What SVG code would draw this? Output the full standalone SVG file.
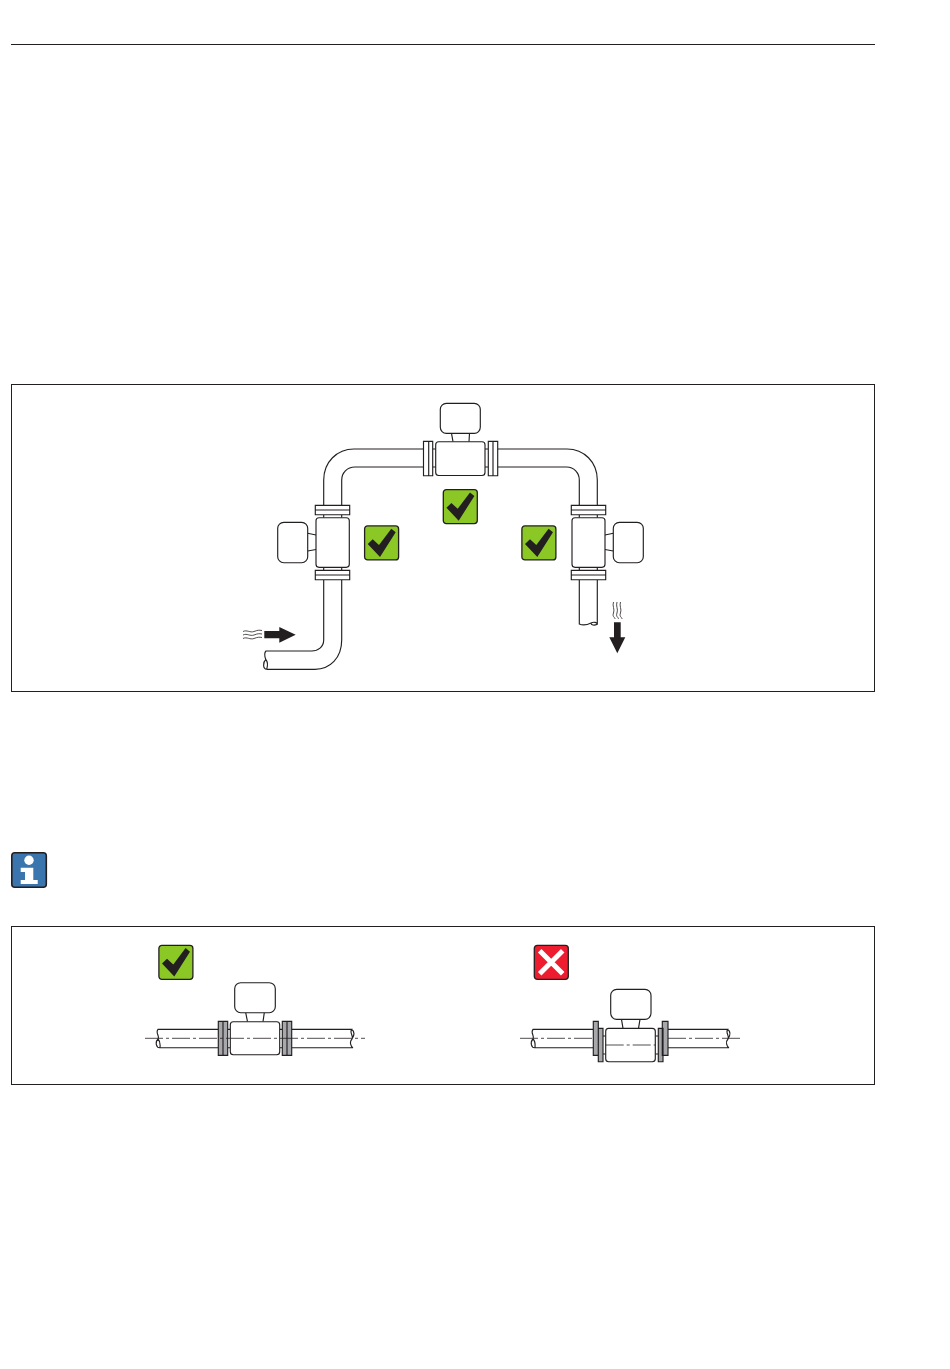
<svg xmlns="http://www.w3.org/2000/svg" xmlns:xlink="http://www.w3.org/1999/xlink" width="950" height="1369" viewBox="0 0 950 1369">
<style>
.l{fill:none;stroke:#231f20;stroke-width:1.15}
.w{fill:#fff;stroke:#231f20;stroke-width:1.15}
.g{fill:#a6a8ab;stroke:#231f20;stroke-width:1.15}
.t{fill:none;stroke:#231f20;stroke-width:.8}
.c{fill:none;stroke:#231f20;stroke-width:.8;stroke-dasharray:18 3 3 3}
.a{fill:#231f20}
</style>
<defs>
<g id="ok"><rect x=".6" y=".6" width="34" height="34" rx="3" fill="#8cc825" stroke="#231f20" stroke-width="1.3"/><path class="a" d="M3.700 18.700L8.700 14L15 19.700L27.300 3.400L31.700 7L16 31.700Z"/></g>
<g id="no"><rect x=".6" y=".6" width="34" height="34" rx="3" fill="#ed1c2e" stroke="#231f20" stroke-width="1.3"/><path d="M6 6L29 29M29 6L6 29" stroke="#fff" stroke-width="5" fill="none"/></g>
</defs>
<g id="frames" fill="none" stroke="#231f20" stroke-width="1">
<path d="M11 44.500H875"/>
<rect x="11.500" y="384.500" width="863" height="307"/>
<rect x="11.500" y="926.500" width="863" height="158"/>
</g>
<g id="connectors">
<path class="l" d="M323.700 505V480C323.700 462 337 449 354 449H423.500M341.700 505V480C341.700 473 347 467 355 467H423.500"/>
<path class="l" d="M497.700 449H567C584 449 597.300 462 597.300 480V505M497.700 467H566.700C574 467 579.300 473 579.300 480V505"/>
<path class="l" d="M323.700 580V640C323.700 647 318 651 311.700 651H266C264 653 264.500 656 265.800 659.500C263 662 262.500 669 266.700 669.300C268 665 268 662 265.800 659.500M341.700 580V640C341.700 658 330 669.300 315 669.300H266.700"/>
<path class="l" d="M579.300 580V624C584 626 588 624.500 591 623C594 621.500 597 622.500 597.300 624.300C594 626 591 625 591 623M597.300 580V624.300"/>
<path class="a" d="M264.300 631H279.300V627L295.700 634.700L279.300 642.700V638.300H264.300Z"/>
<path class="t" d="M243 631.500C247 629.500 250 633 254 631.500S259 630 262 630.500M243 635C247 633 250 636.500 254 635S259 633.500 262 634M243 638.500C247 636.500 250 640 254 638.500S259 637 262 637.500"/>
<path class="a" d="M614 622.300H620.700V637.300H625.300L617.300 653.300L609.300 637.300H614Z"/>
<path class="t" d="M613.500 602C612 606 615 609 613.500 613S615 617 615 619M617 602C615.500 606 618.500 609 617 613S618.500 617 618.500 619M620.500 602C619 606 622 609 620.500 613S622 617 622 619"/>
</g>
<g id="meter-top">
<path class="l" d="M432.700 449H435.700M432.700 467H435.700M485 449H488.300M485 467H488.300M451.500 433.300L453 441.700M469.500 433.300L469 441.700"/>
<rect class="w" x="440.300" y="403.300" width="40" height="30" rx="6"/>
<rect class="w" x="435.700" y="441.700" width="49.300" height="33.800" rx="3"/>
<path class="w" d="M423.500 441.300H432.700V475.700H423.500ZM428.700 441.300V475.700M488.300 441.300H497.700V475.700H488.300ZM493 441.300V475.700"/>
</g>
<g id="meter-left">
<path class="l" d="M323.700 514.700V517.700M341.700 514.700V517.700M323.700 567.300V570.300M341.700 567.300V570.300M307.700 533.300L316 535M307.700 551L316 549.500"/>
<rect class="w" x="277.700" y="522.300" width="30" height="40.400" rx="6"/>
<rect class="w" x="316" y="517.700" width="33.300" height="49.600" rx="3"/>
<path class="w" d="M315.300 505.300H349.700V514.700H315.300ZM315.300 510H349.700M315.300 570.300H349.700V579.700H315.300ZM315.300 575H349.700"/>
</g>
<g id="meter-right">
<path class="l" d="M579.300 514.700V517.700M597.300 514.700V517.700M579.300 567.300V570.300M597.300 567.300V570.300M613.300 533.300L605 535M613.300 551L605 549.500"/>
<rect class="w" x="613.300" y="522.300" width="30" height="40.400" rx="6"/>
<rect class="w" x="572" y="517.700" width="33" height="49.600" rx="3"/>
<path class="w" d="M571.300 505.300H605.700V514.700H571.300ZM571.300 510H605.700M571.300 570.300H605.700V579.700H571.300ZM571.300 575H605.700"/>
</g>
<g id="check-top"><use xlink:href="#ok" href="#ok" x="442.700" y="489"/></g>
<g id="check-left"><use xlink:href="#ok" href="#ok" x="364" y="525.300"/></g>
<g id="check-right"><use xlink:href="#ok" href="#ok" x="521.300" y="525.300"/></g>
<g id="info">
<rect x="11.800" y="852.800" width="34.500" height="34.500" rx="3" fill="#3a75ae" stroke="#231f20" stroke-width="1.600"/>
<circle cx="29" cy="860.300" r="4.700" fill="#fff"/>
<path d="M20.700 867.700H33.300V880H37.700V884H20.700V880H25V872H20.700Z" fill="#fff"/>
</g>
<g id="check-good"><use xlink:href="#ok" href="#ok" x="158.300" y="944.700"/></g>
<g id="meter-good">
<path class="l" d="M218.300 1029.300H158C155 1033 160 1036 158 1039C155 1042 156 1048 160 1047.700H218.300M158 1039C161 1042 160 1046 160 1047.700M291.700 1029.300H351.700C349 1033 354 1036 352 1039C349 1042 351 1047 353 1047.700H291.700M351.700 1029.300C355 1032 354 1036 352 1039M227.700 1029.300H230.300M227.700 1047.700H230.300M279.700 1029.300H282.300M279.700 1047.700H282.300M245.700 1012.700L247.500 1021.700M264.300 1012.700L263 1021.700"/>
<rect class="w" x="234.700" y="982.700" width="40.600" height="30" rx="6"/>
<rect class="w" x="230.300" y="1021.700" width="49.400" height="33" rx="3"/>
<path class="g" d="M218.300 1021.300H227.700V1055.300H218.300ZM223 1021.300V1055.300M282.300 1021.300H291.700V1055.300H282.300ZM287 1021.300V1055.300"/>
<path class="c" d="M145 1038.300H365"/>
</g>
<g id="check-bad"><use xlink:href="#no" href="#no" x="533.700" y="944.700"/></g>
<g id="meter-bad">
<path class="l" d="M593.300 1029.300H533C530 1033 535 1036 533 1039C530 1042 531 1048 535 1047.700H593.300M533 1039C536 1042 535 1046 535 1047.700M668 1029.300H727.700C725 1033 730 1036 728 1039C725 1042 727 1047 729 1047.700H668M727.700 1029.300C731 1032 730 1036 728 1039M603 1036H605.700M603 1054H605.700M655.300 1036H658.300M655.300 1054H658.300M621.500 1019.300L623 1028.300M640 1019.300L638.500 1028.300"/>
<rect class="w" x="610.700" y="989.300" width="40.300" height="30" rx="6"/>
<rect class="w" x="605.700" y="1028.300" width="49.600" height="33.400" rx="3"/>
<path class="g" d="M593.300 1021.300H598.300V1055.300H593.300ZM598.300 1028.300H603V1061.700H598.300ZM658.300 1028.300H663V1061.700H658.300ZM662.300 1021.300H668V1055.300H662.300Z"/>
<path class="c" d="M520 1038.300H593M668 1038.300H741M605.700 1045H655.300"/>
</g>
</svg>
